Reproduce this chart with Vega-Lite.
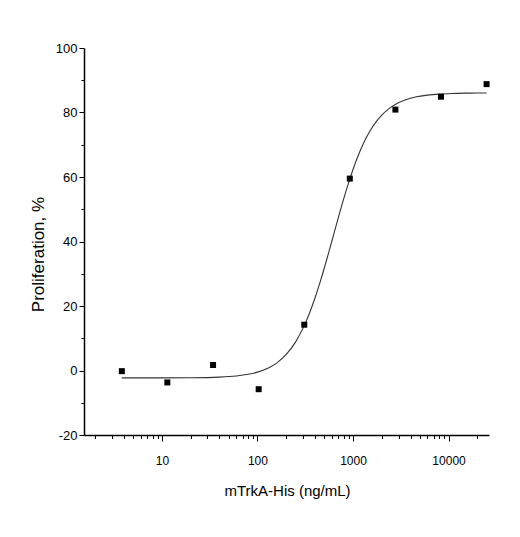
{
  "$schema": "https://vega.github.io/schema/vega-lite/v6.json",
  "width": 405,
  "height": 387,
  "autosize": {"type": "none"},
  "padding": {"left": 84, "top": 48, "right": 31, "bottom": 102},
  "background": "white",
  "config": {
    "view": {"stroke": null},
    "font": "Liberation Sans",
    "axis": {
      "grid": false,
      "domainColor": "black",
      "domainWidth": 1.5,
      "tickColor": "black",
      "tickWidth": 1,
      "labelColor": "black",
      "titleColor": "black",
      "labelFont": "Liberation Sans",
      "titleFont": "Liberation Sans",
      "titleFontWeight": "normal",
      "labelOverlap": false,
      "labelFlush": false
    }
  },
  "datasets": {
    "points": [
      {"conc": 3.81, "prolif": -0.2},
      {"conc": 11.4, "prolif": -3.7},
      {"conc": 34.3, "prolif": 1.7},
      {"conc": 103, "prolif": -5.8},
      {"conc": 309, "prolif": 14.2},
      {"conc": 926, "prolif": 59.5},
      {"conc": 2778, "prolif": 80.9},
      {"conc": 8333, "prolif": 84.9},
      {"conc": 25000, "prolif": 88.8}
    ],
    "curve": [
      {"conc": 3.8, "prolif": -2.3},
      {"conc": 10, "prolif": -2.29},
      {"conc": 20, "prolif": -2.24},
      {"conc": 40, "prolif": -2.04},
      {"conc": 60, "prolif": -1.69},
      {"conc": 80, "prolif": -1.18},
      {"conc": 100, "prolif": -0.51},
      {"conc": 130, "prolif": 0.77},
      {"conc": 160, "prolif": 2.38},
      {"conc": 200, "prolif": 4.97},
      {"conc": 250, "prolif": 8.81},
      {"conc": 300, "prolif": 13.14},
      {"conc": 350, "prolif": 17.75},
      {"conc": 400, "prolif": 22.48},
      {"conc": 450, "prolif": 27.17},
      {"conc": 500, "prolif": 31.7},
      {"conc": 560, "prolif": 36.85},
      {"conc": 624, "prolif": 41.9},
      {"conc": 700, "prolif": 47.25},
      {"conc": 800, "prolif": 53.28},
      {"conc": 900, "prolif": 58.24},
      {"conc": 1000, "prolif": 62.32},
      {"conc": 1150, "prolif": 67.11},
      {"conc": 1300, "prolif": 70.7},
      {"conc": 1500, "prolif": 74.18},
      {"conc": 1750, "prolif": 77.17},
      {"conc": 2000, "prolif": 79.2},
      {"conc": 2400, "prolif": 81.29},
      {"conc": 2800, "prolif": 82.58},
      {"conc": 3500, "prolif": 83.87},
      {"conc": 4500, "prolif": 84.78},
      {"conc": 6000, "prolif": 85.38},
      {"conc": 8000, "prolif": 85.71},
      {"conc": 11000, "prolif": 85.9},
      {"conc": 15000, "prolif": 86.0},
      {"conc": 20000, "prolif": 86.04},
      {"conc": 25000, "prolif": 86.06}
    ]
  },
  "encoding": {
    "x": {
      "field": "conc",
      "type": "quantitative",
      "scale": {"type": "log", "domain": [1.53, 26500], "nice": false},
      "axis": {
        "title": "mTrkA-His (ng/mL)",
        "titleFontSize": 15,
        "titleX": 203,
        "titleY": 60,
        "titleBaseline": "alphabetic",
        "titleAlign": "center",
        "labelFontSize": 12,
        "labelPadding": 14,
        "values": [2, 3, 4, 5, 6, 7, 8, 9, 10, 20, 30, 40, 50, 60, 70, 80, 90, 100, 200, 300, 400, 500, 600, 700, 800, 900, 1000, 2000, 3000, 4000, 5000, 6000, 7000, 8000, 9000, 10000, 20000],
        "labelExpr": "indexof([10, 100, 1000, 10000], datum.value) >= 0 ? '' + datum.value : ''",
        "tickSize": {"condition": {"test": "indexof([10, 100, 1000, 10000], datum.value) >= 0", "value": 6}, "value": 3.5}
      }
    },
    "y": {
      "field": "prolif",
      "type": "quantitative",
      "scale": {"domain": [-20, 100], "nice": false},
      "axis": {
        "title": "Proliferation, %",
        "titleFontSize": 17,
        "titleX": -41,
        "titleY": 206,
        "titleBaseline": "alphabetic",
        "titleAlign": "center",
        "titleAngle": -90,
        "labelFontSize": 13,
        "labelPadding": 2,
        "values": [-20, -10, 0, 10, 20, 30, 40, 50, 60, 70, 80, 90, 100],
        "labelExpr": "datum.value % 20 == 0 ? '' + datum.value : ''",
        "tickSize": {"condition": {"test": "datum.value % 20 == 0", "value": 5}, "value": 3}
      }
    }
  },
  "layer": [
    {
      "data": {"name": "curve"},
      "mark": {"type": "line", "color": "#333333", "strokeWidth": 1.1, "interpolate": "monotone"}
    },
    {
      "data": {"name": "points"},
      "mark": {"type": "point", "shape": "square", "filled": true, "color": "black", "opacity": 1, "size": 36}
    }
  ]
}
